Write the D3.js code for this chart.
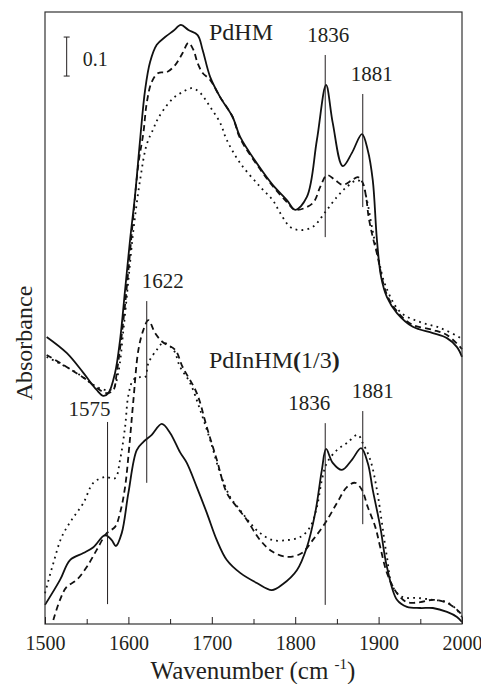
<!DOCTYPE html>
<html>
<head>
  <meta charset="utf-8">
  <script src="https://d3js.org/d3.v7.min.js"></script>
  <style>
    body { margin: 0; background: #fff; }
    svg text { font-family: "Liberation Serif", "Times New Roman", serif; fill: #231f20; }
    .tick line { stroke: #231f20; }
    .curve { fill: none; stroke: #111; stroke-width: 1.8; }
    .mark { stroke: #231f20; stroke-width: 1; }
  </style>
</head>
<body>
  <script>

    // PdHM spectra: [wavenumber, absorbance]
    var hmSolid = [[1502,0.736],[1526,0.695],[1546,0.644],[1562,0.600],[1570,0.585],[1576,0.592],[1584,0.644],[1590,0.728],
      [1596,0.856],[1602,0.985],[1608,1.100],[1614,1.241],[1620,1.369],[1626,1.441],[1634,1.485],[1644,1.505],[1654,1.521],
      [1663,1.536],[1672,1.523],[1683,1.510],[1689,1.472],[1698,1.403],[1710,1.351],[1725,1.300],[1734,1.249],[1758,1.169],
      [1773,1.126],[1790,1.087],[1800,1.062],[1814,1.095],[1826,1.241],[1837,1.382],[1845,1.285],[1857,1.174],[1868,1.208],
      [1880,1.256],[1887,1.215],[1893,1.138],[1898,0.985],[1903,0.890],[1910,0.838],[1922,0.797],[1941,0.762],[1965,0.746],
      [1982,0.733],[1994,0.710],[2000,0.685]];

    var hmDash = [[1502,0.690],[1526,0.659],[1550,0.626],[1562,0.605],[1574,0.592],[1582,0.600],[1586,0.644],[1594,0.779],
      [1600,0.908],[1606,1.049],[1612,1.180],[1618,1.260],[1622,1.336],[1628,1.390],[1636,1.413],[1646,1.415],[1656,1.433],
      [1665,1.464],[1672,1.490],[1678,1.472],[1683,1.438],[1689,1.413],[1698,1.395],[1710,1.351],[1725,1.300],[1734,1.245],
      [1758,1.166],[1773,1.123],[1790,1.082],[1800,1.062],[1821,1.079],[1830,1.121],[1838,1.151],[1848,1.138],[1857,1.126],
      [1868,1.138],[1875,1.146],[1881,1.131],[1885,1.095],[1888,1.044],[1893,0.992],[1898,0.950],[1910,0.844],[1926,0.792],
      [1941,0.767],[1965,0.754],[1982,0.741],[2000,0.705]];

    var hmDot = [[1502,0.685],[1538,0.644],[1562,0.608],[1574,0.600],[1582,0.605],[1588,0.646],[1594,0.754],[1600,0.882],
      [1606,1.010],[1614,1.138],[1622,1.230],[1630,1.270],[1634,1.290],[1642,1.318],[1654,1.349],[1665,1.364],[1676,1.374],
      [1686,1.362],[1698,1.326],[1710,1.285],[1718,1.241],[1734,1.182],[1758,1.121],[1773,1.087],[1782,1.054],[1794,1.018],
      [1806,1.010],[1821,1.018],[1836,1.056],[1850,1.095],[1862,1.121],[1874,1.138],[1880,1.131],[1886,1.087],[1892,1.018],
      [1899,0.946],[1908,0.869],[1926,0.800],[1950,0.774],[1974,0.759],[1998,0.733],[2000,0.728]];

    // PdInHM(1/3) spectra: [wavenumber, absorbance]
    var inSolid = [[1500,0.049],[1518,0.113],[1530,0.164],[1546,0.182],[1558,0.197],[1572,0.228],[1580,0.215],[1585,0.200],
      [1592,0.233],[1600,0.336],[1610,0.446],[1618,0.467],[1628,0.485],[1640,0.513],[1650,0.490],[1662,0.440],[1670,0.413],
      [1682,0.351],[1694,0.285],[1706,0.215],[1718,0.164],[1734,0.131],[1754,0.105],[1772,0.087],[1785,0.102],[1802,0.138],
      [1814,0.197],[1824,0.285],[1832,0.395],[1837,0.449],[1845,0.413],[1856,0.395],[1868,0.421],[1879,0.451],[1887,0.413],
      [1893,0.344],[1902,0.249],[1910,0.146],[1922,0.062],[1934,0.044],[1950,0.041],[1965,0.041],[1982,0.031],[1994,0.018],
      [2000,0.005]];

    var inDash = [[1510,0.010],[1518,0.062],[1526,0.095],[1538,0.113],[1550,0.146],[1562,0.190],[1574,0.233],[1584,0.249],
      [1590,0.285],[1596,0.351],[1601,0.454],[1606,0.574],[1612,0.703],[1618,0.754],[1624,0.779],[1632,0.746],[1641,0.723],
      [1656,0.703],[1665,0.659],[1682,0.592],[1694,0.505],[1706,0.421],[1718,0.336],[1730,0.300],[1742,0.267],[1758,0.215],
      [1773,0.185],[1791,0.172],[1808,0.182],[1821,0.215],[1836,0.259],[1850,0.310],[1862,0.351],[1872,0.362],[1880,0.344],
      [1887,0.300],[1896,0.249],[1902,0.197],[1910,0.131],[1922,0.079],[1934,0.056],[1950,0.056],[1965,0.062],[1982,0.054],
      [1998,0.028],[2000,0.018]];

    var inDot = [[1500,0.079],[1510,0.156],[1520,0.223],[1532,0.267],[1546,0.310],[1558,0.362],[1572,0.377],[1584,0.374],
      [1590,0.421],[1596,0.505],[1600,0.587],[1606,0.626],[1614,0.633],[1620,0.633],[1624,0.669],[1634,0.703],[1642,0.721],
      [1654,0.703],[1662,0.659],[1674,0.618],[1686,0.549],[1698,0.472],[1710,0.387],[1722,0.326],[1734,0.292],[1746,0.259],
      [1758,0.233],[1773,0.215],[1790,0.215],[1806,0.223],[1818,0.249],[1826,0.300],[1832,0.369],[1838,0.413],[1850,0.446],
      [1862,0.464],[1875,0.485],[1881,0.464],[1890,0.421],[1898,0.344],[1904,0.259],[1910,0.172],[1917,0.095],[1929,0.069],
      [1946,0.067],[1965,0.062],[1982,0.056],[1994,0.036],[2000,0.018]];

    // peak markers: wavenumber, line bottom / top (absorbance)
    var peakWn  = [1836, 1881, 1622, 1575, 1836, 1881];
    var peakLo  = [0.992, 1.069, 0.362, 0.051, 0.049, 0.256];
    var peakHi  = [1.459, 1.359, 0.828, 0.518, 0.515, 0.546];
    var labelDx = [3, 9, 16, -18, -16, 10];

    var xTicks = [1500, 1600, 1700, 1800, 1900, 2000];
    var xMinor = [1550, 1650, 1750, 1850, 1950];

    var W = 481, H = 684;
    var margin = {top: 12, right: 19, bottom: 60, left: 45};
    var serif = "'Liberation Serif', 'Times New Roman', serif";

    var x = d3.scaleLinear().domain([1500, 2000]).range([margin.left, W - margin.right]);
    var y = d3.scaleLinear().domain([0, 612 / 390]).range([H - margin.bottom, margin.top]);

    var svg = d3.select("body").append("svg")
        .attr("width", W)
        .attr("height", H)
        .attr("font-family", serif);

    var line = d3.line()
        .x(function(d) { return x(d[0]); })
        .y(function(d) { return y(d[1]); })
        .curve(d3.curveCatmullRom.alpha(0.5));

    var series = [
      {data: hmSolid, dash: null},
      {data: hmDash, dash: "6,4"},
      {data: hmDot, dash: "1.8,4.2"},
      {data: inSolid, dash: null},
      {data: inDash, dash: "6,4"},
      {data: inDot, dash: "1.8,4.2"}
    ];

    svg.selectAll(".curve")
        .data(series)
      .enter().append("path")
        .attr("class", "curve")
        .attr("d", function(d) { return line(d.data); })
        .attr("stroke-dasharray", function(d) { return d.dash; });

    // peak marker lines + labels
    peakWn.forEach(function(w, i) {
      svg.append("line").attr("class", "mark")
          .attr("x1", x(w)).attr("x2", x(w))
          .attr("y1", y(peakLo[i])).attr("y2", y(peakHi[i]));
      svg.append("text")
          .attr("x", x(w) + labelDx[i])
          .attr("y", y(peakHi[i]) - (i == 3 ? 6 : 13))
          .attr("text-anchor", "middle")
          .style("font-size", "21px")
          .text(w);
    });

    // frame
    svg.append("rect")
        .attr("x", x(1500)).attr("y", y.range()[1])
        .attr("width", x(2000) - x(1500))
        .attr("height", y.range()[0] - y.range()[1])
        .attr("fill", "none").attr("stroke", "#333").attr("stroke-width", 1.2);

    // x axis, ticks inward
    var gx = svg.append("g")
        .attr("transform", "translate(0," + y(0) + ")")
        .call(d3.axisBottom(x).tickValues(xTicks).tickSize(-7).tickPadding(12).tickFormat(d3.format("d")));
    gx.attr("font-family", serif);
    gx.select(".domain").remove();
    gx.selectAll("text").style("font-size", "20px").attr("fill", "#231f20");

    var gm = svg.append("g")
        .attr("transform", "translate(0," + y(0) + ")")
        .call(d3.axisBottom(x).tickValues(xMinor).tickSize(-5).tickFormat(""));
    gm.select(".domain").remove();

    // scale bar 0.1
    var sbX = x(1526);
    svg.append("line").attr("class", "mark").attr("x1", sbX).attr("x2", sbX).attr("y1", y(1.505)).attr("y2", y(1.405));
    svg.append("line").attr("class", "mark").attr("x1", sbX - 3).attr("x2", sbX + 3).attr("y1", y(1.505)).attr("y2", y(1.505));
    svg.append("line").attr("class", "mark").attr("x1", sbX - 3).attr("x2", sbX + 3).attr("y1", y(1.405)).attr("y2", y(1.405));
    svg.append("text").attr("x", sbX + 16).attr("y", 66).style("font-size", "20px").text("0.1");

    // sample labels
    svg.append("text").attr("x", 209).attr("y", 40).style("font-size", "24px").text("PdHM");
    var lab = svg.append("text").attr("x", 209).attr("y", 368).style("font-size", "24px");
    lab.append("tspan").text("PdInHM");
    lab.append("tspan").style("font-weight", "bold").text("(");
    lab.append("tspan").text("1/3");
    lab.append("tspan").style("font-weight", "bold").text(")");

    // axis titles
    var xt = svg.append("text").attr("x", 253).attr("y", 679)
        .attr("text-anchor", "middle").style("font-size", "25px");
    xt.append("tspan").text("Wavenumber (cm ");
    xt.append("tspan").attr("dy", -10).style("font-size", "15px").text("-1");
    xt.append("tspan").attr("dy", 10).text(")");

    svg.append("text")
        .attr("transform", "translate(32,343) rotate(-90)")
        .attr("text-anchor", "middle")
        .style("font-size", "24px")
        .text("Absorbance");

  </script>
</body>
</html>
